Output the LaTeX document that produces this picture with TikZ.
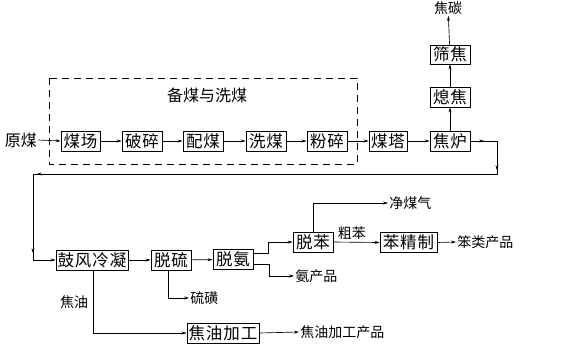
\documentclass[tikz,border=0pt]{standalone}
\usepackage{fontspec}
\newfontfamily\cjk{Noto Sans CJK SC}
\newfontfamily\cjkbox[LetterSpace=6]{Noto Sans CJK SC}
\usetikzlibrary{arrows.meta,decorations.markings}
\begin{document}
\begin{tikzpicture}[x=1pt,y=-1pt,
  line width=0.65pt,
  >={Stealth[length=5pt,width=3pt]},
  bx/.style={draw,minimum height=20pt,inner sep=0pt,font=\cjkbox\fontsize{16.5}{16.5}\selectfont},
  lbl/.style={inner sep=1pt,font=\cjk\fontsize{14}{14}\selectfont},
  big/.style={inner sep=1pt,font=\cjk\fontsize{16}{16}\selectfont},
  grp/.style={draw,dash pattern=on 7pt off 5pt},
  midtips/.style={postaction={decorate},decoration={markings,#1}}
]
\useasboundingbox (0,0) rectangle (563,351);

% group frame
\draw[grp] (49,78) rectangle (357,164);
\node[big] (title) at (207,95) {备煤与洗煤};

% row 1
\node[big] (ym) at (21,140) {原煤};
\node[bx,minimum width=39pt] (mc) at (80.5,141) {煤场};
\node[bx,minimum width=40pt] (ps) at (142,141) {破碎};
\node[bx,minimum width=40pt] (pm) at (203,141) {配煤};
\node[bx,minimum width=40pt] (xm) at (266,141) {洗煤};
\node[bx,minimum width=40pt] (fs) at (327,141) {粉碎};
\node[bx,minimum width=38pt] (mt) at (388,141) {煤塔};
\node[bx,minimum width=40pt] (jl) at (450,141) {焦炉};
\node[bx,minimum width=40pt] (xj) at (450,97) {熄焦};
\node[bx,minimum width=40pt,minimum height=19pt] (sj) at (450,54.5) {筛焦};
\node[lbl] (jt) at (448,8) {焦碳};

\draw[->] (ym.east) -- (mc.west);
\draw[->] (mc) -- (ps);
\draw[->] (ps) -- (pm);
\draw[->] (pm) -- (xm);
\draw[->] (xm) -- (fs);
\draw[->] (fs) -- (mt);
\draw[->] (mt) -- (jl);
\draw[->] (jl) -- (xj);
\draw[->] (xj) -- (sj);
\draw[->] (sj) -- (jt);

% row 2
\node[bx,minimum width=72pt] (gf) at (92,260) {鼓风冷凝};
\node[bx,minimum width=40pt] (tl) at (171,260) {脱硫};
\node[bx,minimum width=40pt] (ta) at (233,259.5) {脱氨};
\node[bx,minimum width=40pt] (tb) at (313,242) {脱苯};
\node[bx,minimum width=57pt] (bj) at (408.5,242.5) {苯精制};
\node[bx,minimum width=72pt] (jy) at (223,333) {焦油加工};

\node[lbl,anchor=west] (jmq) at (388,203) {净煤气};
\node[lbl,anchor=west] (bl) at (456,242) {笨类产品};
\node[lbl,anchor=west] (ap) at (294,276) {氨产品};
\node[lbl,anchor=west] (lh) at (189,298) {硫磺};
\node[lbl,anchor=west] (jycp) at (299,332) {焦油加工产品};
\node[lbl] (jyl) at (74,302) {焦油};

% return loop
\coordinate (c1) at (497,141);
\coordinate (c2) at (497,174);
\coordinate (c3) at (33,174);
\coordinate (c4) at (33,260);
\draw[->,midtips={mark=at position 14pt with {\arrow{>}},mark=at position 56pt with {\arrow{>}},mark=at position 520pt with {\arrow{>}},mark=at position 603pt with {\arrow{>}}}]
  (jl.east) -- (c1) -- (c2) -- (c3) -- (c4) -- (gf.west);

\draw[->] (gf) -- (tl);
\draw[->] (tl) -- (ta);
\draw[->] ([yshift=6pt]ta.east) -- ++(15,0) |- (tb.west);
\draw[->] ([yshift=-5pt]ta.east) -- ++(16,0) |- (ap.west);
\draw[->] (tb.north) |- (jmq.west);
\draw[->] (tb.east) -- node[lbl,above=1pt,pos=0.4] (cb) {粗苯} (bj.west);
\draw[->] (bj.east) -- (bl.west);
\draw[->] ([xshift=-3pt]tl.south) |- (lh.west);
\draw[->] ([xshift=1pt]gf.south) |- (jy.west);
\draw[->] (jy.east) -- (jycp.west);
\end{tikzpicture}
\end{document}
